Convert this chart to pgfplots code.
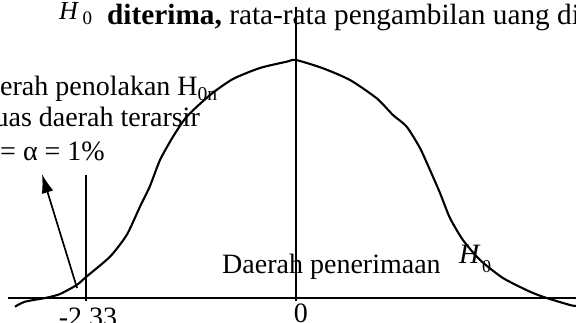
\documentclass[border=0pt]{standalone}
\usepackage{fontspec}
\setmainfont{Liberation Serif}
\usepackage{pgfplots}
\pgfplotsset{compat=1.18}
\usetikzlibrary{arrows.meta}

\newcommand{\bigtxt}{\fontsize{28bp}{33bp}\selectfont}

\begin{document}
\begin{tikzpicture}
% visible window of the figure
\path[use as bounding box, clip] (0,0) rectangle (576bp,323bp);
\begin{axis}[
  at={(0,0)}, anchor=south west,
  width=576bp, height=323bp, scale only axis,
  axis lines=none,
  xmin=-3.278, xmax=3.101,
  ymin=-25, ymax=298,
  clip=false,
]
% horizontal z axis
\addplot[black, line width=2bp] coordinates {(-3.189,0) (3.101,0)};
% centre line at z = 0
\addplot[black, line width=2bp] coordinates {(0,291) (0,-3)};
% critical value z = -2.33
\addplot[black, line width=2bp] coordinates {(-2.329,123) (-2.329,-3)};

% bell curve of the sampling distribution
\addplot[black, line width=2.1bp, smooth, tension=0.4] coordinates {
  (-3.112,-8.7) (-3.001,-3.7) (-2.761,0.3) (-2.613,4) (-2.429,13)
  (-2.329,20.7) (-2.060,41.3) (-1.875,63) (-1.728,91.3) (-1.617,112)
  (-1.506,138) (-1.362,161.3) (-1.210,181.3) (-0.952,203) (-0.698,219)
  (-0.399,230) (-0.103,236.3) (0,238) (0.299,229.7) (0.598,218)
  (0.894,199.7) (1.074,183) (1.226,171.3) (1.373,150) (1.484,128)
  (1.595,105) (1.705,80) (1.849,58) (2.038,38) (2.292,20)
  (2.591,6.3) (2.776,0) (3.034,-7) (3.101,-8)
};

% arrow pointing from the shaded tail to its description
\addplot[black, line width=1.7bp, -{Latex[length=19bp, width=12bp]}]
  coordinates {(-2.425,10) (-2.813,124)};

% heading
\node[anchor=base west, inner sep=0pt, font=\fontsize{26bp}{30bp}\selectfont]
  at (axis cs:-2.625,278) {\textit{H}};
\node[anchor=base west, inner sep=0pt, font=\fontsize{19bp}{22bp}\selectfont]
  at (axis cs:-2.365,273) {0};
\node[anchor=base west, inner sep=0pt, font=\fontsize{29.3bp}{34bp}\selectfont]
  at (axis cs:-2.093,273) {\textbf{diterima,} rata-rata pengambilan uang di};

% rejection region note
\node[anchor=base east, inner sep=0pt, font=\bigtxt]
  at (axis cs:-0.864,202) {Daerah penolakan H\textsubscript{0n}};
\node[anchor=base east, inner sep=0pt, font=\bigtxt]
  at (axis cs:-1.063,171) {Luas daerah terarsir};
\node[anchor=base east, inner sep=0pt, font=\bigtxt]
  at (axis cs:-2.115,137) {= α = 1\%};

% acceptance region
\node[anchor=base west, inner sep=0pt, font=\bigtxt]
  at (axis cs:-0.819,25) {Daerah penerimaan};
\node[anchor=base west, inner sep=0pt, font=\fontsize{28bp}{33bp}\selectfont]
  at (axis cs:1.805,35) {\textit{H}};
\node[anchor=base west, inner sep=0pt, font=\fontsize{18bp}{22bp}\selectfont]
  at (axis cs:2.060,26) {0};

% tick labels
\node[anchor=base, inner sep=0pt, font=\bigtxt] at (axis cs:-2.303,-28) {-2.33};
\node[anchor=base, inner sep=0pt, font=\bigtxt] at (axis cs:0.055,-24) {0};
\end{axis}
\end{tikzpicture}
\end{document}
